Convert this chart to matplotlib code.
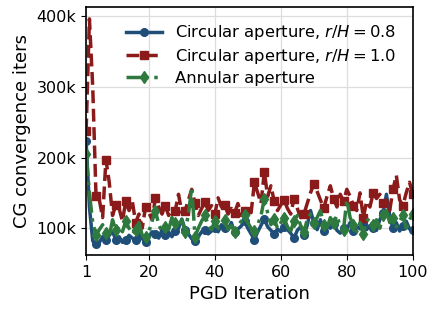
import matplotlib

matplotlib.use("Agg")
import matplotlib.pyplot as plt
from matplotlib.ticker import FuncFormatter

# CG iterations (thousands) per PGD iteration
circ_08 = [
    223, 130, 82, 77, 80, 88, 83, 90, 95, 84,
    88, 80, 83, 90, 86, 83, 92, 85, 81, 88,
    95, 92, 86, 98, 91, 95, 88, 96, 100, 113,
    98, 92, 85, 82, 88, 95, 98, 92, 96, 100,
    95, 105, 100, 98, 108, 94, 99, 103, 110, 100,
    92, 84, 95, 104, 113, 102, 97, 92, 99, 95,
    102, 98, 93, 86, 97, 102, 91, 104, 125, 108,
    98, 112, 96, 104, 100, 106, 97, 93, 101, 98,
    108, 96, 103, 99, 106, 98, 104, 100, 97, 112,
    122, 148, 118, 100, 108, 96, 103, 110, 99, 97,
]
circ_10 = [
    237, 396, 300, 145, 140, 115, 197, 165, 118, 133,
    128, 110, 138, 125, 138, 108, 120, 100, 130, 122,
    112, 143, 130, 120, 132, 118, 128, 125, 148, 122,
    125, 140, 155, 135, 118, 128, 137, 125, 132, 120,
    143, 130, 133, 120, 128, 122, 135, 118, 125, 130,
    122, 165, 150, 135, 180, 145, 160, 138, 125, 133,
    140, 128, 120, 142, 128, 115, 120, 135, 150, 163,
    152, 140, 128, 145, 160, 142, 130, 148, 138, 155,
    145, 132, 125, 150, 115, 138, 130, 150, 142, 148,
    135, 140, 125, 155, 175, 140, 132, 150, 165, 148,
]
annular = [
    205, 150, 108, 90, 98, 105, 93, 88, 112, 97,
    103, 95, 110, 100, 92, 97, 108, 90, 88, 95,
    110, 125, 105, 95, 102, 98, 115, 107, 100, 112,
    95, 120, 158, 88, 100, 110, 118, 105, 98, 110,
    100, 108, 112, 98, 104, 95, 103, 110, 118, 108,
    100, 96, 105, 118, 142, 122, 105, 113, 100, 108,
    115, 102, 96, 110, 118, 104, 95, 112, 120, 108,
    115, 125, 105, 100, 115, 108, 118, 102, 98, 140,
    115, 105, 95, 108, 92, 110, 115, 105, 112, 100,
    118, 125, 108, 115, 102, 110, 118, 100, 112, 120,
]
iters = list(range(1, len(circ_08) + 1))
xticks = [1, 20, 40, 60, 80, 100]


def main():
    fig, ax = plt.subplots(figsize=(4.35, 3.13), dpi=100)
    fig.subplots_adjust(left=0.198, right=0.949, top=0.978, bottom=0.185)

    ax.plot(iters, [v * 1000 for v in circ_08], color="#1f4e79", ls="-", lw=2.5,
            marker="o", ms=5.5, markevery=3, label=r"Circular aperture, $r/H = 0.8$")
    ax.plot(iters, [v * 1000 for v in circ_10], color="#8b1a1a", ls="--", lw=2.5,
            marker="s", ms=6, markevery=3, label=r"Circular aperture, $r/H = 1.0$")
    ax.plot(iters, [v * 1000 for v in annular], color="#2e7a3e", ls="-.", lw=2.5,
            marker="d", ms=6.5, markevery=3, label="Annular aperture")

    ax.set_xlim(1, 100)
    ax.set_ylim(62000, 413000)
    ax.set_xticks(xticks)
    ax.yaxis.set_major_formatter(FuncFormatter(lambda v, _: f"{int(v / 1000)}k"))
    ax.tick_params(labelsize=11.5)
    ax.grid(True, color="#dddddd", lw=0.9)
    ax.set_axisbelow(True)
    for s in ax.spines.values():
        s.set_linewidth(1.2)

    ax.set_xlabel("PGD Iteration", fontsize=13)
    ax.set_ylabel("CG convergence iters", fontsize=13)
    ax.legend(loc="upper right", frameon=False, fontsize=11.8, handlelength=2.2,
              labelspacing=0.3, borderaxespad=0.6)

    fig.savefig("out.png")


if __name__ == "__main__":
    main()
